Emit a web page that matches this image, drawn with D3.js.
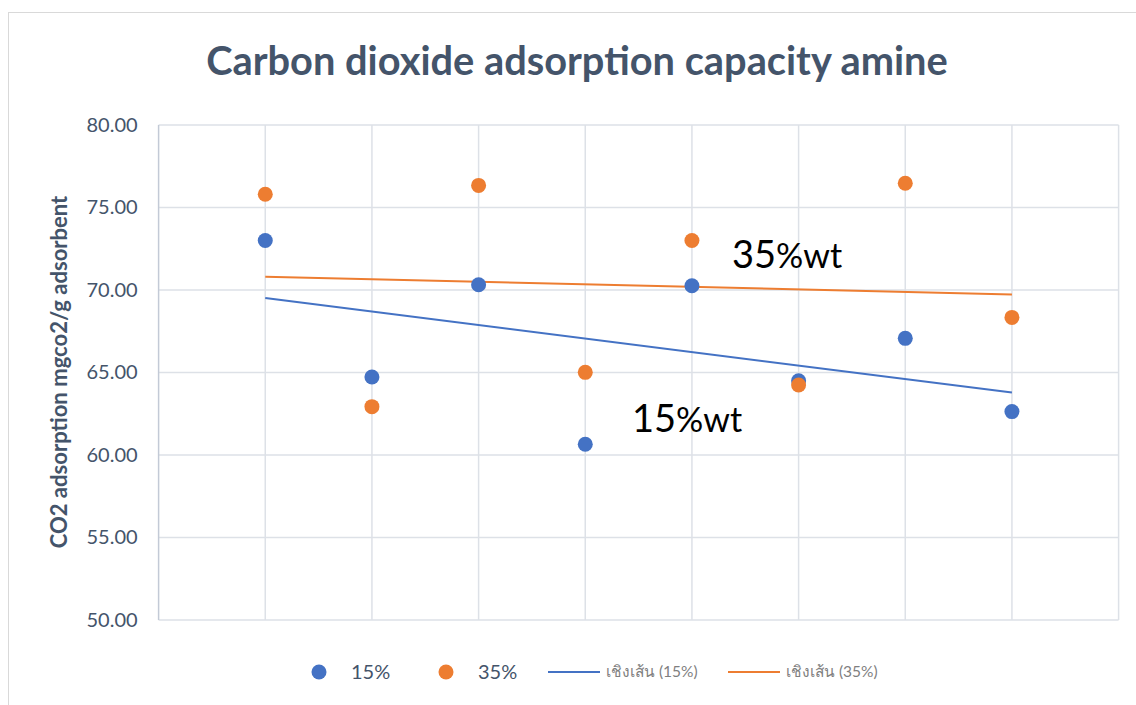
<!DOCTYPE html>
<html>
<head>
<meta charset="utf-8">
<script src="https://cdn.jsdelivr.net/npm/d3@7"></script>
<style>
  body { margin: 0; background: #fff; }
  svg { display: block; font-family: Lato, "Open Sans", sans-serif; }
</style>
</head>
<body>
<svg id="chart" width="1136" height="705"></svg>
<script>
// data
const samples = [1, 2, 3, 4, 5, 6, 7, 8];
const amine15 = [73.00, 64.73, 70.32, 60.65, 70.26, 64.50, 67.07, 62.63];
const amine35 = [75.80, 62.93, 76.34, 65.01, 73.00, 64.24, 76.47, 68.34];
const yTicks = [50, 55, 60, 65, 70, 75, 80];
const seriesNames = ["15%", "35%"];
const trendNames = ["เชิงเส้น (15%)", "เชิงเส้น (35%)"];

const blue = "#4472c4", orange = "#ed7d31";
const slate = "#44546a";
const gridColor = "#dde1e7";

const svg = d3.select("#chart");
const margin = {left: 158.6, right: 1118.6, top: 125, bottom: 620};

// outer chart border
svg.append("rect")
  .attr("x", 8.5).attr("y", 12.5)
  .attr("width", 1140).attr("height", 720)
  .attr("fill", "none").attr("stroke", "#d9d9d9");

const x = d3.scaleLinear().domain([0, 9]).range([margin.left, margin.right]);
const y = d3.scaleLinear().domain([50, 80]).range([margin.bottom, margin.top]);

// gridlines
svg.append("g").selectAll("line.h")
  .data(yTicks)
  .enter().append("line")
  .attr("x1", margin.left).attr("x2", margin.right)
  .attr("y1", d => y(d)).attr("y2", d => y(d))
  .attr("stroke", gridColor).attr("stroke-width", 1.5);

svg.append("g").selectAll("line.v")
  .data(d3.range(0, 10))
  .enter().append("line")
  .attr("x1", d => x(d)).attr("x2", d => x(d))
  .attr("y1", margin.top).attr("y2", margin.bottom)
  .attr("stroke", d => d === 0 ? "#c3cad6" : gridColor)
  .attr("stroke-width", 1.5);

// y axis labels
const yAxis = d3.axisLeft(y).tickValues(yTicks).tickFormat(d3.format(".2f")).tickSize(0).tickPadding(21);
const ya = svg.append("g").attr("transform", `translate(${margin.left},0)`).call(yAxis);
ya.select(".domain").remove();
ya.selectAll("text")
  .attr("fill", slate)
  .style("font-size", "20px")
  .style("font-family", "Lato, sans-serif");

// linear trend (least squares)
function trend(vals) {
  const mx = d3.mean(samples), my = d3.mean(vals);
  let sxy = 0, sxx = 0;
  samples.forEach((s, i) => { sxy += (s - mx) * (vals[i] - my); sxx += (s - mx) * (s - mx); });
  const b = sxy / sxx, a = my - b * mx;
  return [samples[0], samples[samples.length - 1]].map(s => [s, a + b * s]);
}

const line = d3.line().x(d => x(d[0])).y(d => y(d[1]));
svg.append("path").attr("d", line(trend(amine15)))
  .attr("fill", "none").attr("stroke", blue).attr("stroke-width", 2);
svg.append("path").attr("d", line(trend(amine35)))
  .attr("fill", "none").attr("stroke", orange).attr("stroke-width", 2);

// points
svg.append("g").selectAll("circle")
  .data(samples)
  .enter().append("circle")
  .attr("cx", d => x(d)).attr("cy", (d, i) => y(amine15[i]))
  .attr("r", 7.5).attr("fill", blue);

svg.append("g").selectAll("circle")
  .data(samples)
  .enter().append("circle")
  .attr("cx", d => x(d)).attr("cy", (d, i) => y(amine35[i]))
  .attr("r", 7.5).attr("fill", orange);

// annotations
function wtLabel(tx, ty, num) {
  const t = svg.append("text").attr("x", tx).attr("y", ty)
    .attr("fill", "#000").style("font-family", "Lato, sans-serif");
  t.append("tspan").text(num).style("font-size", "38px");
  t.append("tspan").text("%wt").style("font-size", "34px");
}
wtLabel(732, 268, "35");
wtLabel(632, 432, "15");

// title
const title = svg.append("text")
  .attr("x", 577).attr("y", 75)
  .attr("text-anchor", "middle")
  .attr("fill", slate)
  .style("font-weight", "bold")
  .style("font-size", "36px")
  .text("Carbon dioxide adsorption capacity amine");
const tw = title.node().getComputedTextLength();
title.style("font-size", (36 * 742 / tw) + "px");

// y title
const yt = svg.append("text")
  .attr("transform", `translate(67,372) rotate(-90)`)
  .attr("text-anchor", "middle")
  .attr("fill", slate)
  .style("font-weight", "bold")
  .style("font-size", "19px")
  .text("CO2 adsorption mgco2/g adsorbent");
const yw = yt.node().getComputedTextLength();
yt.style("font-size", (19 * 353 / yw) + "px");

// legend
const leg = svg.append("g");
const legY = 672;
[[319, blue, seriesNames[0]], [446, orange, seriesNames[1]]].forEach(([lx, c, name]) => {
  leg.append("circle").attr("cx", lx).attr("cy", legY).attr("r", 7.5).attr("fill", c);
  leg.append("text").attr("x", lx + 32).attr("y", legY + 7)
    .attr("fill", slate).style("font-size", "20px").text(name);
});
[[548, blue, trendNames[0]], [728, orange, trendNames[1]]].forEach(([lx, c, name]) => {
  leg.append("line").attr("x1", lx).attr("x2", lx + 52)
    .attr("y1", legY).attr("y2", legY).attr("stroke", c).attr("stroke-width", 2);
  leg.append("text").attr("x", lx + 58).attr("y", legY + 5)
    .attr("fill", "#7f7f7f").style("font-size", "15.5px").text(name);
});
</script>
</body>
</html>
